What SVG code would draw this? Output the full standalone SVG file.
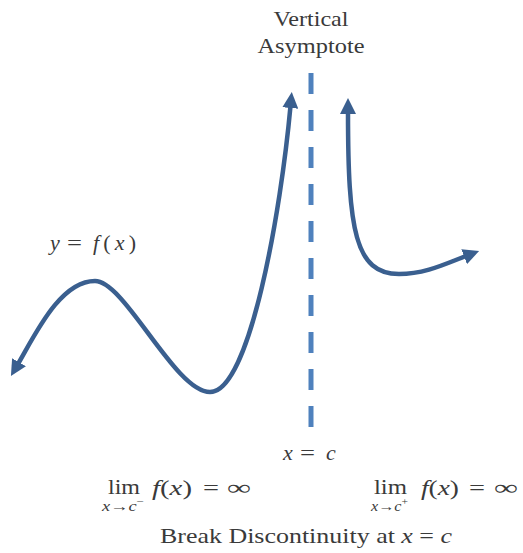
<svg xmlns="http://www.w3.org/2000/svg" width="523" height="553" viewBox="0 0 523 553">
<style>
.t{font-family:"Liberation Serif","Times New Roman",serif;fill:#3a3a3a;font-size:22px}
.s{font-size:14px}
.i{font-style:italic}
.curve{fill:none;stroke:#3a5f8f;stroke-width:4.5;stroke-linecap:butt}
.asym{fill:none;stroke:#4f81bd;stroke-width:5;stroke-dasharray:21 16}
</style>
<defs>
<marker id="ah" viewBox="0 0 16 16" refX="2" refY="8" markerWidth="16" markerHeight="16" markerUnits="userSpaceOnUse" orient="auto-start-reverse">
<path d="M0,0 L16,8 L0,16 z" fill="#3a5f8f"/>
</marker>
</defs>
<rect width="523" height="553" fill="#ffffff"/>
<g id="connectors">
<line id="asymptote" class="asym" x1="311" y1="73" x2="311" y2="428"/>
<path id="left-branch" class="curve" d="M18,364 C35,335 60,281 95,281 C125,281 175,392 210,392 C250,392 281,210 290.5,106" marker-start="url(#ah)" marker-end="url(#ah)"/>
<path id="right-branch" class="curve" d="M348,112 C348,230 355,274 399,274 C425,274 445,264 466,256" marker-start="url(#ah)" marker-end="url(#ah)"/>
</g>
<g id="label-asymptote">
<text class="t" x="311" y="26" text-anchor="middle" textLength="75" lengthAdjust="spacingAndGlyphs">Vertical</text>
<text class="t" x="311" y="53" text-anchor="middle" textLength="107" lengthAdjust="spacingAndGlyphs">Asymptote</text>
</g>
<g id="label-function">
<text class="t i" x="50" y="250">y</text>
<text class="t" x="67" y="250" textLength="15" lengthAdjust="spacingAndGlyphs">=</text>
<text class="t" x="93" y="250" font-size="23" textLength="43"><tspan class="i">f</tspan>(<tspan class="i">x</tspan>)</text>
</g>
<g id="label-xc">
<text class="t i" x="283" y="460">x</text>
<text class="t" x="300" y="460" textLength="15" lengthAdjust="spacingAndGlyphs">=</text>
<text class="t i" x="326" y="460">c</text>
</g>
<g id="label-left-limit">
<text class="t" x="108" y="494" font-size="20" textLength="32" lengthAdjust="spacingAndGlyphs">lim</text>
<text class="t s" x="102" y="511" textLength="42" lengthAdjust="spacingAndGlyphs"><tspan class="i">x</tspan>→<tspan class="i">c</tspan><tspan font-size="10" dy="-6">−</tspan></text>
<text class="t" x="152" y="495" textLength="40" lengthAdjust="spacingAndGlyphs"><tspan class="i">f</tspan>(<tspan class="i">x</tspan>)</text>
<text class="t" x="203" y="495" textLength="16" lengthAdjust="spacingAndGlyphs">=</text>
<text class="t" x="227" y="495" textLength="24" lengthAdjust="spacingAndGlyphs">∞</text>
</g>
<g id="label-right-limit">
<text class="t" x="374" y="494" font-size="20" textLength="33" lengthAdjust="spacingAndGlyphs">lim</text>
<text class="t s" x="371" y="511" textLength="37" lengthAdjust="spacingAndGlyphs"><tspan class="i">x</tspan>→<tspan class="i">c</tspan><tspan font-size="10" dy="-6">+</tspan></text>
<text class="t" x="421" y="495" textLength="38" lengthAdjust="spacingAndGlyphs"><tspan class="i">f</tspan>(<tspan class="i">x</tspan>)</text>
<text class="t" x="469" y="495" textLength="16" lengthAdjust="spacingAndGlyphs">=</text>
<text class="t" x="494" y="495" textLength="24" lengthAdjust="spacingAndGlyphs">∞</text>
</g>
<g id="caption">
<text class="t" x="160" y="543" textLength="292" lengthAdjust="spacingAndGlyphs">Break Discontinuity at <tspan class="i">x</tspan> = <tspan class="i">c</tspan></text>
</g>
</svg>
